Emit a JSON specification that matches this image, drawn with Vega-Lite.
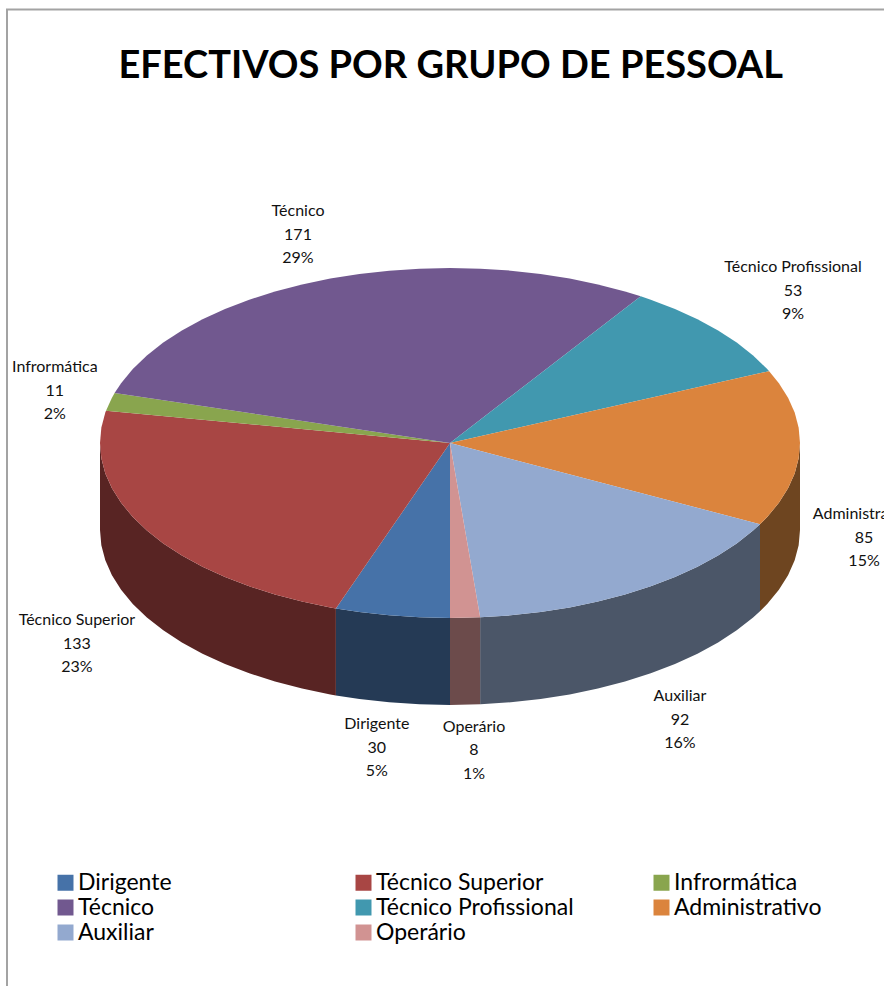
{"$schema":"https://vega.github.io/schema/vega-lite/v6.json","width":884,"height":986,"autosize":{"type":"none"},"padding":0,"background":"white","view":{"stroke":null},
"datasets":{
"frame":[{"u":1.24,"v":2.477,"o":1},{"u":-1.2657,"v":2.477,"o":2},{"u":-1.2657,"v":-3.1029,"o":3}],
"walls":[
{"w":"Administrativo","u":1,"v":0,"v2":-0.497},{"w":"Administrativo","u":0.9962,"v":-0.0872,"v2":-0.5842},{"w":"Administrativo","u":0.9848,"v":-0.1736,"v2":-0.6706},{"w":"Administrativo","u":0.9659,"v":-0.2588,"v2":-0.7558},{"w":"Administrativo","u":0.9397,"v":-0.342,"v2":-0.839},{"w":"Administrativo","u":0.9063,"v":-0.4226,"v2":-0.9196},{"w":"Administrativo","u":0.8857,"v":-0.4642,"v2":-0.9612},
{"w":"Auxiliar","u":0.8857,"v":-0.4642,"v2":-0.9612},{"w":"Auxiliar","u":0.866,"v":-0.5,"v2":-0.997},{"w":"Auxiliar","u":0.8192,"v":-0.5736,"v2":-1.0706},{"w":"Auxiliar","u":0.766,"v":-0.6428,"v2":-1.1398},{"w":"Auxiliar","u":0.7071,"v":-0.7071,"v2":-1.2041},{"w":"Auxiliar","u":0.6428,"v":-0.766,"v2":-1.263},{"w":"Auxiliar","u":0.5736,"v":-0.8192,"v2":-1.3162},{"w":"Auxiliar","u":0.5,"v":-0.866,"v2":-1.363},{"w":"Auxiliar","u":0.4226,"v":-0.9063,"v2":-1.4033},{"w":"Auxiliar","u":0.342,"v":-0.9397,"v2":-1.4367},{"w":"Auxiliar","u":0.2588,"v":-0.9659,"v2":-1.4629},{"w":"Auxiliar","u":0.1736,"v":-0.9848,"v2":-1.4818},{"w":"Auxiliar","u":0.0872,"v":-0.9962,"v2":-1.4932},{"w":"Auxiliar","u":0.0861,"v":-0.9963,"v2":-1.4933},
{"w":"Operário","u":0.0861,"v":-0.9963,"v2":-1.4933},{"w":"Operário","u":0,"v":-1,"v2":-1.497},
{"w":"Dirigente","u":0,"v":-1,"v2":-1.497},{"w":"Dirigente","u":-0.0872,"v":-0.9962,"v2":-1.4932},{"w":"Dirigente","u":-0.1736,"v":-0.9848,"v2":-1.4818},{"w":"Dirigente","u":-0.2588,"v":-0.9659,"v2":-1.4629},{"w":"Dirigente","u":-0.326,"v":-0.9455,"v2":-1.4425},
{"w":"Técnico Superior","u":-0.326,"v":-0.9455,"v2":-1.4425},{"w":"Técnico Superior","u":-0.342,"v":-0.9397,"v2":-1.4367},{"w":"Técnico Superior","u":-0.4226,"v":-0.9063,"v2":-1.4033},{"w":"Técnico Superior","u":-0.5,"v":-0.866,"v2":-1.363},{"w":"Técnico Superior","u":-0.5736,"v":-0.8192,"v2":-1.3162},{"w":"Técnico Superior","u":-0.6428,"v":-0.766,"v2":-1.263},{"w":"Técnico Superior","u":-0.7071,"v":-0.7071,"v2":-1.2041},{"w":"Técnico Superior","u":-0.766,"v":-0.6428,"v2":-1.1398},{"w":"Técnico Superior","u":-0.8192,"v":-0.5736,"v2":-1.0706},{"w":"Técnico Superior","u":-0.866,"v":-0.5,"v2":-0.997},{"w":"Técnico Superior","u":-0.9063,"v":-0.4226,"v2":-0.9196},{"w":"Técnico Superior","u":-0.9397,"v":-0.342,"v2":-0.839},{"w":"Técnico Superior","u":-0.9659,"v":-0.2588,"v2":-0.7558},{"w":"Técnico Superior","u":-0.9848,"v":-0.1736,"v2":-0.6706},{"w":"Técnico Superior","u":-0.9962,"v":-0.0872,"v2":-0.5842},{"w":"Técnico Superior","u":-1,"v":0,"v2":-0.497}
],
"slices":[
{"s":"Dirigente","o":0,"u":0,"v":0},{"s":"Dirigente","o":1,"u":0,"v":-1},{"s":"Dirigente","o":2,"u":-0.0872,"v":-0.9962},{"s":"Dirigente","o":3,"u":-0.1736,"v":-0.9848},{"s":"Dirigente","o":4,"u":-0.2588,"v":-0.9659},{"s":"Dirigente","o":5,"u":-0.326,"v":-0.9455},
{"s":"Técnico Superior","o":0,"u":0,"v":0},{"s":"Técnico Superior","o":1,"u":-0.326,"v":-0.9455},{"s":"Técnico Superior","o":2,"u":-0.342,"v":-0.9397},{"s":"Técnico Superior","o":3,"u":-0.4226,"v":-0.9063},{"s":"Técnico Superior","o":4,"u":-0.5,"v":-0.866},{"s":"Técnico Superior","o":5,"u":-0.5736,"v":-0.8192},{"s":"Técnico Superior","o":6,"u":-0.6428,"v":-0.766},{"s":"Técnico Superior","o":7,"u":-0.7071,"v":-0.7071},{"s":"Técnico Superior","o":8,"u":-0.766,"v":-0.6428},{"s":"Técnico Superior","o":9,"u":-0.8192,"v":-0.5736},{"s":"Técnico Superior","o":10,"u":-0.866,"v":-0.5},{"s":"Técnico Superior","o":11,"u":-0.9063,"v":-0.4226},{"s":"Técnico Superior","o":12,"u":-0.9397,"v":-0.342},{"s":"Técnico Superior","o":13,"u":-0.9659,"v":-0.2588},{"s":"Técnico Superior","o":14,"u":-0.9848,"v":-0.1736},{"s":"Técnico Superior","o":15,"u":-0.9962,"v":-0.0872},{"s":"Técnico Superior","o":16,"u":-1,"v":0},{"s":"Técnico Superior","o":17,"u":-0.9962,"v":0.0872},{"s":"Técnico Superior","o":18,"u":-0.9848,"v":0.1736},{"s":"Técnico Superior","o":19,"u":-0.9828,"v":0.1848},
{"s":"Infrormática","o":0,"u":0,"v":0},{"s":"Infrormática","o":1,"u":-0.9828,"v":0.1848},{"s":"Infrormática","o":2,"u":-0.9659,"v":0.2588},{"s":"Infrormática","o":3,"u":-0.9583,"v":0.2857},
{"s":"Técnico","o":0,"u":0,"v":0},{"s":"Técnico","o":1,"u":-0.9583,"v":0.2857},{"s":"Técnico","o":2,"u":-0.9397,"v":0.342},{"s":"Técnico","o":3,"u":-0.9063,"v":0.4226},{"s":"Técnico","o":4,"u":-0.866,"v":0.5},{"s":"Técnico","o":5,"u":-0.8192,"v":0.5736},{"s":"Técnico","o":6,"u":-0.766,"v":0.6428},{"s":"Técnico","o":7,"u":-0.7071,"v":0.7071},{"s":"Técnico","o":8,"u":-0.6428,"v":0.766},{"s":"Técnico","o":9,"u":-0.5736,"v":0.8192},{"s":"Técnico","o":10,"u":-0.5,"v":0.866},{"s":"Técnico","o":11,"u":-0.4226,"v":0.9063},{"s":"Técnico","o":12,"u":-0.342,"v":0.9397},{"s":"Técnico","o":13,"u":-0.2588,"v":0.9659},{"s":"Técnico","o":14,"u":-0.1736,"v":0.9848},{"s":"Técnico","o":15,"u":-0.0872,"v":0.9962},{"s":"Técnico","o":16,"u":0,"v":1},{"s":"Técnico","o":17,"u":0.0872,"v":0.9962},{"s":"Técnico","o":18,"u":0.1736,"v":0.9848},{"s":"Técnico","o":19,"u":0.2588,"v":0.9659},{"s":"Técnico","o":20,"u":0.342,"v":0.9397},{"s":"Técnico","o":21,"u":0.4226,"v":0.9063},{"s":"Técnico","o":22,"u":0.5,"v":0.866},{"s":"Técnico","o":23,"u":0.545,"v":0.8385},
{"s":"Técnico Profissional","o":0,"u":0,"v":0},{"s":"Técnico Profissional","o":1,"u":0.545,"v":0.8385},{"s":"Técnico Profissional","o":2,"u":0.5736,"v":0.8192},{"s":"Técnico Profissional","o":3,"u":0.6428,"v":0.766},{"s":"Técnico Profissional","o":4,"u":0.7071,"v":0.7071},{"s":"Técnico Profissional","o":5,"u":0.766,"v":0.6428},{"s":"Técnico Profissional","o":6,"u":0.8192,"v":0.5736},{"s":"Técnico Profissional","o":7,"u":0.866,"v":0.5},{"s":"Técnico Profissional","o":8,"u":0.9063,"v":0.4226},{"s":"Técnico Profissional","o":9,"u":0.9118,"v":0.4105},
{"s":"Administrativo","o":0,"u":0,"v":0},{"s":"Administrativo","o":1,"u":0.9118,"v":0.4105},{"s":"Administrativo","o":2,"u":0.9397,"v":0.342},{"s":"Administrativo","o":3,"u":0.9659,"v":0.2588},{"s":"Administrativo","o":4,"u":0.9848,"v":0.1736},{"s":"Administrativo","o":5,"u":0.9962,"v":0.0872},{"s":"Administrativo","o":6,"u":1,"v":0},{"s":"Administrativo","o":7,"u":0.9962,"v":-0.0872},{"s":"Administrativo","o":8,"u":0.9848,"v":-0.1736},{"s":"Administrativo","o":9,"u":0.9659,"v":-0.2588},{"s":"Administrativo","o":10,"u":0.9397,"v":-0.342},{"s":"Administrativo","o":11,"u":0.9063,"v":-0.4226},{"s":"Administrativo","o":12,"u":0.8857,"v":-0.4642},
{"s":"Auxiliar","o":0,"u":0,"v":0},{"s":"Auxiliar","o":1,"u":0.8857,"v":-0.4642},{"s":"Auxiliar","o":2,"u":0.866,"v":-0.5},{"s":"Auxiliar","o":3,"u":0.8192,"v":-0.5736},{"s":"Auxiliar","o":4,"u":0.766,"v":-0.6428},{"s":"Auxiliar","o":5,"u":0.7071,"v":-0.7071},{"s":"Auxiliar","o":6,"u":0.6428,"v":-0.766},{"s":"Auxiliar","o":7,"u":0.5736,"v":-0.8192},{"s":"Auxiliar","o":8,"u":0.5,"v":-0.866},{"s":"Auxiliar","o":9,"u":0.4226,"v":-0.9063},{"s":"Auxiliar","o":10,"u":0.342,"v":-0.9397},{"s":"Auxiliar","o":11,"u":0.2588,"v":-0.9659},{"s":"Auxiliar","o":12,"u":0.1736,"v":-0.9848},{"s":"Auxiliar","o":13,"u":0.0872,"v":-0.9962},{"s":"Auxiliar","o":14,"u":0.0861,"v":-0.9963},
{"s":"Operário","o":0,"u":0,"v":0},{"s":"Operário","o":1,"u":0.0861,"v":-0.9963},{"s":"Operário","o":2,"u":0,"v":-1}
],
"labels":[
{"label":"Técnico\n171\n29%","u":-0.4343,"v":1.371},
{"label":"Técnico Profissional\n53\n9%","u":0.98,"v":1.051},
{"label":"Administrativo\n85\n15%","u":1.183,"v":-0.36},
{"label":"Auxiliar\n92\n16%","u":0.657,"v":-1.4},
{"label":"Operário\n8\n1%","u":0.0686,"v":-1.577},
{"label":"Dirigente\n30\n5%","u":-0.209,"v":-1.56},
{"label":"Técnico Superior\n133\n23%","u":-1.066,"v":-0.966},
{"label":"Infrormática\n11\n2%","u":-1.129,"v":0.48}
],
"title":[{"label":"EFECTIVOS POR GRUPO DE PESSOAL","u":0.002,"v":2.148}]
},
"encoding":{
"x":{"field":"u","type":"quantitative","axis":null,"scale":{"domain":[-1.285714,1.24],"nice":false,"zero":false}},
"y":{"field":"v","type":"quantitative","axis":null,"scale":{"domain":[-3.102857,2.531429],"nice":false,"zero":false}}
},
"layer":[
{"data":{"name":"frame"},"mark":{"type":"line","color":"#a3a3a3","strokeWidth":2},"encoding":{"order":{"field":"o"}}},
{"data":{"name":"walls"},"mark":{"type":"area","orient":"vertical","stroke":null},"encoding":{"y2":{"field":"v2"},"fill":{"field":"w","type":"nominal","legend":null,"scale":{"domain":["Dirigente","Técnico Superior","Administrativo","Auxiliar","Operário"],"range":["#253a55","#582423","#6e4520","#4b5668","#6c4b4b"]}}}},
{"data":{"name":"slices"},"mark":{"type":"line","filled":true,"strokeWidth":0},"encoding":{"order":{"field":"o"},"color":{"field":"s","type":"nominal","title":null,"scale":{"domain":["Dirigente","Técnico Superior","Infrormática","Técnico","Técnico Profissional","Administrativo","Auxiliar","Operário"],"range":["#4672a8","#a84644","#89a54e","#71588f","#4198af","#db843d","#93a9cf","#d19392"]},"sort":null,"legend":{"orient":"none","direction":"horizontal","legendX":54,"legendY":871,"columns":3,"gridAlign":"all","columnPadding":76,"rowPadding":1,"symbolType":"square","symbolSize":256,"symbolStrokeWidth":0,"labelFont":"Lato","labelFontSize":23,"labelColor":"#000000","labelOffset":1,"labelLimit":300}}}},
{"data":{"name":"labels"},"mark":{"type":"text","font":"Lato","fontSize":16,"align":"center","baseline":"top","lineBreak":"\n","lineHeight":23.5,"color":"#111111"},"encoding":{"text":{"field":"label"}}},
{"data":{"name":"title"},"mark":{"type":"text","font":"Lato","fontSize":38,"fontWeight":"bold","align":"center","baseline":"middle","color":"#000000"},"encoding":{"text":{"field":"label"}}}
]}
